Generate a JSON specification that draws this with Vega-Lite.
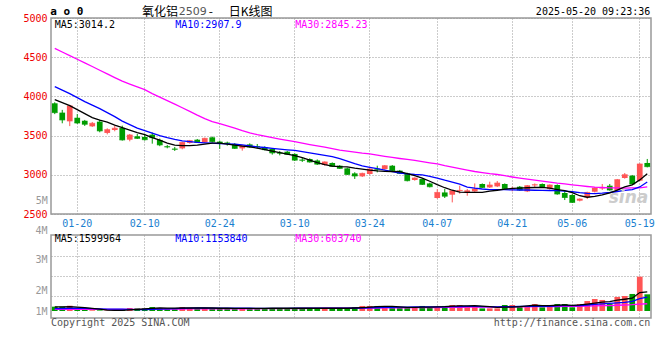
{
  "$schema": "https://vega.github.io/schema/vega-lite/v6.json",
  "background": "white",
  "padding": {"left": 22, "top": 5, "right": 0, "bottom": 0},
  "spacing": -5,
  "config": {
    "view": {"stroke": "#999999", "strokeWidth": 1.5},
    "font": "DejaVu Sans Mono",
    "axis": {"gridColor": "#999999", "gridDash": [1, 2], "gridWidth": 1, "ticks": false, "domain": false, "labelFont": "DejaVu Sans Mono", "labelFontSize": 10, "labelOverlap": false, "title": null}
  },
  "datasets": {
    "k": [
      {"d":"01-15","o":3912,"h":3925,"l":3774,"c":3793,"v":360000,"m5":3959,"m10":4125,"m30":4613,"v5":350000,"v10":200000,"v30":130000},
      {"d":"01-16","o":3793,"h":3828,"l":3657,"c":3700,"v":360000,"m5":3921,"m10":4081,"m30":4566,"v5":350000,"v10":210000,"v30":130000},
      {"d":"01-17","o":3682,"h":3892,"l":3621,"c":3879,"v":440000,"m5":3883,"m10":4036,"m30":4520,"v5":370000,"v10":230000,"v30":140000},
      {"d":"01-20","o":3729,"h":3774,"l":3649,"c":3662,"v":150000,"m5":3832,"m10":3985,"m30":4474,"v5":330000,"v10":230000,"v30":140000},
      {"d":"01-21","o":3691,"h":3700,"l":3623,"c":3644,"v":80000,"m5":3781,"m10":3934,"m30":4427,"v5":280000,"v10":220000,"v30":140000},
      {"d":"01-22","o":3618,"h":3674,"l":3610,"c":3657,"v":60000,"m5":3729,"m10":3889,"m30":4381,"v5":220000,"v10":200000,"v30":140000},
      {"d":"01-23","o":3678,"h":3700,"l":3542,"c":3560,"v":50000,"m5":3698,"m10":3844,"m30":4333,"v5":160000,"v10":180000,"v30":140000},
      {"d":"01-24","o":3534,"h":3593,"l":3516,"c":3576,"v":40000,"m5":3672,"m10":3793,"m30":4287,"v5":80000,"v10":160000,"v30":130000},
      {"d":"01-27","o":3572,"h":3627,"l":3555,"c":3593,"v":40000,"m5":3634,"m10":3742,"m30":4240,"v5":60000,"v10":150000,"v30":130000},
      {"d":"02-05","o":3598,"h":3627,"l":3436,"c":3445,"v":100000,"m5":3602,"m10":3685,"m30":4195,"v5":60000,"v10":150000,"v30":130000},
      {"d":"02-06","o":3448,"h":3521,"l":3427,"c":3508,"v":250000,"m5":3570,"m10":3640,"m30":4157,"v5":100000,"v10":130000,"v30":140000},
      {"d":"02-07","o":3491,"h":3521,"l":3457,"c":3465,"v":220000,"m5":3538,"m10":3595,"m30":4121,"v5":130000,"v10":120000,"v30":140000},
      {"d":"02-10","o":3483,"h":3521,"l":3436,"c":3448,"v":220000,"m5":3512,"m10":3563,"m30":4087,"v5":170000,"v10":120000,"v30":140000},
      {"d":"02-11","o":3512,"h":3538,"l":3397,"c":3474,"v":330000,"m5":3474,"m10":3531,"m30":4036,"v5":220000,"v10":140000,"v30":150000},
      {"d":"02-12","o":3445,"h":3462,"l":3365,"c":3381,"v":220000,"m5":3442,"m10":3500,"m30":3991,"v5":250000,"v10":160000,"v30":150000},
      {"d":"02-13","o":3363,"h":3381,"l":3338,"c":3355,"v":220000,"m5":3404,"m10":3474,"m30":3947,"v5":240000,"v10":180000,"v30":150000},
      {"d":"02-14","o":3333,"h":3355,"l":3304,"c":3325,"v":220000,"m5":3378,"m10":3451,"m30":3902,"v5":240000,"v10":200000,"v30":160000},
      {"d":"02-17","o":3337,"h":3422,"l":3325,"c":3413,"v":330000,"m5":3372,"m10":3433,"m30":3855,"v5":260000,"v10":220000,"v30":160000},
      {"d":"02-18","o":3406,"h":3445,"l":3397,"c":3436,"v":250000,"m5":3372,"m10":3423,"m30":3809,"v5":250000,"v10":240000,"v30":170000},
      {"d":"02-19","o":3448,"h":3457,"l":3406,"c":3413,"v":220000,"m5":3378,"m10":3414,"m30":3761,"v5":250000,"v10":250000,"v30":170000},
      {"d":"02-20","o":3413,"h":3474,"l":3406,"c":3465,"v":250000,"m5":3391,"m10":3408,"m30":3717,"v5":250000,"v10":250000,"v30":180000},
      {"d":"02-21","o":3478,"h":3487,"l":3413,"c":3423,"v":220000,"m5":3404,"m10":3403,"m30":3678,"v5":250000,"v10":240000,"v30":180000},
      {"d":"02-24","o":3423,"h":3436,"l":3330,"c":3404,"v":220000,"m5":3404,"m10":3397,"m30":3653,"v5":230000,"v10":240000,"v30":180000},
      {"d":"02-25","o":3410,"h":3423,"l":3372,"c":3402,"v":220000,"m5":3391,"m10":3395,"m30":3625,"v5":230000,"v10":240000,"v30":180000},
      {"d":"02-26","o":3394,"h":3404,"l":3330,"c":3337,"v":220000,"m5":3378,"m10":3391,"m30":3594,"v5":220000,"v10":230000,"v30":180000},
      {"d":"02-27","o":3337,"h":3381,"l":3308,"c":3372,"v":220000,"m5":3365,"m10":3382,"m30":3563,"v5":220000,"v10":230000,"v30":180000},
      {"d":"02-28","o":3388,"h":3401,"l":3346,"c":3355,"v":220000,"m5":3355,"m10":3369,"m30":3535,"v5":220000,"v10":230000,"v30":180000},
      {"d":"03-03","o":3367,"h":3393,"l":3333,"c":3359,"v":220000,"m5":3340,"m10":3356,"m30":3512,"v5":220000,"v10":220000,"v30":180000},
      {"d":"03-04","o":3350,"h":3363,"l":3312,"c":3321,"v":220000,"m5":3321,"m10":3348,"m30":3492,"v5":220000,"v10":220000,"v30":190000},
      {"d":"03-05","o":3330,"h":3337,"l":3257,"c":3279,"v":250000,"m5":3302,"m10":3337,"m30":3474,"v5":230000,"v10":220000,"v30":190000},
      {"d":"03-06","o":3283,"h":3304,"l":3248,"c":3275,"v":220000,"m5":3282,"m10":3327,"m30":3456,"v5":230000,"v10":220000,"v30":190000},
      {"d":"03-07","o":3295,"h":3304,"l":3253,"c":3261,"v":220000,"m5":3263,"m10":3318,"m30":3440,"v5":230000,"v10":220000,"v30":200000},
      {"d":"03-10","o":3266,"h":3274,"l":3176,"c":3187,"v":250000,"m5":3244,"m10":3311,"m30":3423,"v5":230000,"v10":230000,"v30":200000},
      {"d":"03-11","o":3193,"h":3219,"l":3164,"c":3185,"v":220000,"m5":3219,"m10":3295,"m30":3404,"v5":230000,"v10":230000,"v30":210000},
      {"d":"03-12","o":3202,"h":3210,"l":3155,"c":3164,"v":220000,"m5":3187,"m10":3280,"m30":3385,"v5":230000,"v10":230000,"v30":220000},
      {"d":"03-13","o":3183,"h":3196,"l":3125,"c":3136,"v":220000,"m5":3155,"m10":3265,"m30":3368,"v5":230000,"v10":230000,"v30":220000},
      {"d":"03-14","o":3125,"h":3171,"l":3116,"c":3164,"v":250000,"m5":3129,"m10":3249,"m30":3353,"v5":230000,"v10":230000,"v30":230000},
      {"d":"03-17","o":3151,"h":3158,"l":3100,"c":3107,"v":220000,"m5":3110,"m10":3231,"m30":3334,"v5":230000,"v10":230000,"v30":230000},
      {"d":"03-18","o":3116,"h":3125,"l":3074,"c":3082,"v":220000,"m5":3104,"m10":3206,"m30":3316,"v5":230000,"v10":230000,"v30":230000},
      {"d":"03-19","o":3082,"h":3091,"l":2998,"c":3005,"v":220000,"m5":3101,"m10":3174,"m30":3302,"v5":230000,"v10":230000,"v30":230000},
      {"d":"03-20","o":3018,"h":3033,"l":2947,"c":2985,"v":330000,"m5":3085,"m10":3142,"m30":3289,"v5":250000,"v10":240000,"v30":240000},
      {"d":"03-21","o":2980,"h":3027,"l":2972,"c":3018,"v":420000,"m5":3072,"m10":3114,"m30":3276,"v5":280000,"v10":250000,"v30":240000},
      {"d":"03-24","o":3010,"h":3082,"l":3001,"c":3074,"v":420000,"m5":3059,"m10":3095,"m30":3266,"v5":320000,"v10":270000,"v30":250000},
      {"d":"03-25","o":3078,"h":3116,"l":3031,"c":3069,"v":420000,"m5":3050,"m10":3078,"m30":3250,"v5":360000,"v10":290000,"v30":250000},
      {"d":"03-26","o":3074,"h":3125,"l":3065,"c":3116,"v":310000,"m5":3044,"m10":3059,"m30":3235,"v5":380000,"v10":300000,"v30":260000},
      {"d":"03-27","o":3116,"h":3125,"l":3044,"c":3053,"v":310000,"m5":3042,"m10":3040,"m30":3221,"v5":380000,"v10":310000,"v30":260000},
      {"d":"03-28","o":3053,"h":3062,"l":3010,"c":3018,"v":280000,"m5":3040,"m10":3023,"m30":3208,"v5":350000,"v10":320000,"v30":270000},
      {"d":"03-31","o":3018,"h":3027,"l":2916,"c":2925,"v":310000,"m5":3014,"m10":3012,"m30":3196,"v5":310000,"v10":330000,"v30":270000},
      {"d":"04-01","o":2934,"h":2967,"l":2925,"c":2959,"v":310000,"m5":2989,"m10":3004,"m30":3183,"v5":300000,"v10":340000,"v30":280000},
      {"d":"04-02","o":2946,"h":2954,"l":2870,"c":2878,"v":420000,"m5":2957,"m10":2999,"m30":3167,"v5":330000,"v10":350000,"v30":280000},
      {"d":"04-03","o":2890,"h":2899,"l":2839,"c":2848,"v":330000,"m5":2918,"m10":2979,"m30":3152,"v5":330000,"v10":350000,"v30":290000},
      {"d":"04-07","o":2704,"h":2816,"l":2695,"c":2775,"v":330000,"m5":2874,"m10":2957,"m30":3138,"v5":340000,"v10":350000,"v30":290000},
      {"d":"04-08","o":2775,"h":2819,"l":2704,"c":2727,"v":420000,"m5":2835,"m10":2931,"m30":3116,"v5":360000,"v10":350000,"v30":300000},
      {"d":"04-09","o":2746,"h":2806,"l":2648,"c":2797,"v":500000,"m5":2803,"m10":2908,"m30":3097,"v5":400000,"v10":360000,"v30":300000},
      {"d":"04-10","o":2793,"h":2861,"l":2759,"c":2801,"v":500000,"m5":2778,"m10":2880,"m30":3078,"v5":420000,"v10":370000,"v30":310000},
      {"d":"04-11","o":2768,"h":2819,"l":2733,"c":2797,"v":420000,"m5":2775,"m10":2844,"m30":3061,"v5":430000,"v10":380000,"v30":320000},
      {"d":"04-14","o":2788,"h":2890,"l":2768,"c":2819,"v":420000,"m5":2775,"m10":2829,"m30":3042,"v5":450000,"v10":390000,"v30":320000},
      {"d":"04-15","o":2883,"h":2890,"l":2832,"c":2839,"v":220000,"m5":2775,"m10":2819,"m30":3027,"v5":410000,"v10":370000,"v30":330000},
      {"d":"04-16","o":2839,"h":2912,"l":2832,"c":2870,"v":220000,"m5":2791,"m10":2812,"m30":3014,"v5":360000,"v10":360000,"v30":330000},
      {"d":"04-17","o":2852,"h":2921,"l":2844,"c":2895,"v":220000,"m5":2803,"m10":2810,"m30":3004,"v5":300000,"v10":350000,"v30":330000},
      {"d":"04-18","o":2883,"h":2890,"l":2814,"c":2823,"v":500000,"m5":2816,"m10":2810,"m30":2989,"v5":320000,"v10":360000,"v30":340000},
      {"d":"04-21","o":2815,"h":2848,"l":2788,"c":2823,"v":500000,"m5":2826,"m10":2807,"m30":2972,"v5":330000,"v10":370000,"v30":340000},
      {"d":"04-22","o":2848,"h":2857,"l":2797,"c":2806,"v":420000,"m5":2831,"m10":2806,"m30":2957,"v5":370000,"v10":380000,"v30":350000},
      {"d":"04-23","o":2788,"h":2870,"l":2780,"c":2861,"v":420000,"m5":2835,"m10":2806,"m30":2944,"v5":430000,"v10":390000,"v30":350000},
      {"d":"04-24","o":2866,"h":2890,"l":2839,"c":2874,"v":580000,"m5":2838,"m10":2803,"m30":2931,"v5":480000,"v10":390000,"v30":360000},
      {"d":"04-25","o":2883,"h":2890,"l":2832,"c":2839,"v":310000,"m5":2839,"m10":2801,"m30":2918,"v5":450000,"v10":380000,"v30":360000},
      {"d":"04-28","o":2819,"h":2878,"l":2810,"c":2870,"v":500000,"m5":2829,"m10":2800,"m30":2906,"v5":450000,"v10":390000,"v30":370000},
      {"d":"04-29","o":2870,"h":2878,"l":2746,"c":2755,"v":580000,"m5":2812,"m10":2797,"m30":2893,"v5":480000,"v10":420000,"v30":370000},
      {"d":"04-30","o":2768,"h":2797,"l":2678,"c":2712,"v":580000,"m5":2797,"m10":2793,"m30":2883,"v5":510000,"v10":450000,"v30":380000},
      {"d":"05-06","o":2742,"h":2755,"l":2640,"c":2648,"v":310000,"m5":2772,"m10":2784,"m30":2871,"v5":470000,"v10":450000,"v30":380000},
      {"d":"05-07","o":2670,"h":2699,"l":2661,"c":2691,"v":580000,"m5":2733,"m10":2772,"m30":2861,"v5":510000,"v10":460000,"v30":390000},
      {"d":"05-08","o":2712,"h":2784,"l":2691,"c":2775,"v":830000,"m5":2714,"m10":2763,"m30":2851,"v5":580000,"v10":500000,"v30":400000},
      {"d":"05-09","o":2784,"h":2844,"l":2775,"c":2832,"v":1000000,"m5":2725,"m10":2761,"m30":2842,"v5":660000,"v10":550000,"v30":420000},
      {"d":"05-12","o":2827,"h":2883,"l":2806,"c":2835,"v":920000,"m5":2745,"m10":2765,"m30":2838,"v5":740000,"v10":600000,"v30":440000},
      {"d":"05-13","o":2861,"h":2883,"l":2797,"c":2806,"v":580000,"m5":2770,"m10":2774,"m30":2834,"v5":780000,"v10":630000,"v30":450000},
      {"d":"05-14","o":2806,"h":2947,"l":2797,"c":2938,"v":1170000,"m5":2805,"m10":2787,"m30":2832,"v5":900000,"v10":670000,"v30":480000},
      {"d":"05-15","o":2959,"h":3023,"l":2950,"c":3001,"v":1250000,"m5":2845,"m10":2800,"m30":2830,"v5":980000,"v10":720000,"v30":500000},
      {"d":"05-16","o":2989,"h":2998,"l":2874,"c":2883,"v":1420000,"m5":2872,"m10":2812,"m30":2832,"v5":1070000,"v10":800000,"v30":530000},
      {"d":"05-19","o":2925,"h":3146,"l":2916,"c":3138,"v":2860000,"m5":2935,"m10":2845,"m30":2833,"v5":1540000,"v10":1030000,"v30":580000},
      {"d":"05-20","o":3151,"h":3202,"l":3095,"c":3104,"v":1390000,"m5":3014.2,"m10":2907.9,"m30":2845.23,"v5":1599964,"v10":1153840,"v30":603740}
    ]
  },
  "vconcat": [
    {
      "width": 600,
      "height": 196,
      "data": {"name": "k"},
      "encoding": {
        "x": {
          "field": "d", "type": "ordinal",
          "scale": {"type": "band", "paddingInner": 0, "paddingOuter": 0, "domain": ["01-15","01-16","01-17","01-20","01-21","01-22","01-23","01-24","01-27","02-05","02-06","02-07","02-10","02-11","02-12","02-13","02-14","02-17","02-18","02-19","02-20","02-21","02-24","02-25","02-26","02-27","02-28","03-03","03-04","03-05","03-06","03-07","03-10","03-11","03-12","03-13","03-14","03-17","03-18","03-19","03-20","03-21","03-24","03-25","03-26","03-27","03-28","03-31","04-01","04-02","04-03","04-07","04-08","04-09","04-10","04-11","04-14","04-15","04-16","04-17","04-18","04-21","04-22","04-23","04-24","04-25","04-28","04-29","04-30","05-06","05-07","05-08","05-09","05-12","05-13","05-14","05-15","05-16","05-19","05-20"]},
          "axis": {"values": ["01-20","02-10","02-24","03-10","03-24","04-07","04-21","05-06","05-19"], "labelColor": "#1a7fd0", "labelPadding": 4, "labelAngle": 0, "grid": true}
        }
      },
      "layer": [
        {
          "mark": {"type": "rule", "strokeWidth": 1},
          "encoding": {
            "y": {"field": "l", "type": "quantitative", "scale": {"domain": [2500, 5000], "nice": false, "zero": false}, "axis": {"values": [2500, 3000, 3500, 4000, 4500, 5000], "tickCount": 12, "labelOverlap": false, "format": "d", "labelColor": "#ee0000", "labelPadding": 4, "grid": true}},
            "y2": {"field": "h"},
            "color": {"condition": {"test": "datum.c >= datum.o", "value": "#ff5555"}, "value": "#009c00"}
          }
        },
        {
          "mark": {"type": "bar", "width": {"band": 0.76}},
          "encoding": {
            "y": {"field": "o", "type": "quantitative"},
            "y2": {"field": "c"},
            "color": {"condition": {"test": "datum.c >= datum.o", "value": "#ff5555"}, "value": "#009c00"}
          }
        },
        {
          "mark": {"type": "tick", "thickness": 1, "size": 5.7},
          "encoding": {
            "y": {"field": "c", "type": "quantitative"},
            "color": {"condition": {"test": "datum.c >= datum.o", "value": "#ff5555"}, "value": "#009c00"}
          }
        },
        {"mark": {"type": "line", "color": "#ff00ff", "strokeWidth": 1.3}, "encoding": {"y": {"field": "m30", "type": "quantitative"}}},
        {"mark": {"type": "line", "color": "#0000ff", "strokeWidth": 1.3}, "encoding": {"y": {"field": "m10", "type": "quantitative"}}},
        {"mark": {"type": "line", "color": "#000000", "strokeWidth": 1.3}, "encoding": {"y": {"field": "m5", "type": "quantitative"}}},
        {"data": {"values": [{}]}, "mark": {"type": "text", "text": "MA5:3014.2", "align": "left", "baseline": "middle", "fontSize": 10, "color": "#000000"}, "encoding": {"x": {"datum": "01-15", "type": "ordinal"}, "y": {"datum": 4917}}},
        {"data": {"values": [{}]}, "mark": {"type": "text", "text": "MA10:2907.9", "align": "left", "baseline": "middle", "fontSize": 10, "color": "#0000ff", "dx": 0.5}, "encoding": {"x": {"datum": "02-14", "type": "ordinal"}, "y": {"datum": 4917}}},
        {"data": {"values": [{}]}, "mark": {"type": "text", "text": "MA30:2845.23", "align": "left", "baseline": "middle", "fontSize": 10, "color": "#ff00ff", "dx": 0.5}, "encoding": {"x": {"datum": "03-10", "type": "ordinal"}, "y": {"datum": 4917}}},
        {"data": {"values": [{}]}, "mark": {"type": "text", "text": "a o 0", "align": "left", "baseline": "middle", "fontSize": 11, "fontWeight": "bold", "color": "#000000", "dx": -4.5}, "encoding": {"x": {"datum": "01-15", "type": "ordinal"}, "y": {"datum": 5077}}},
        {"data": {"values": [{}]}, "mark": {"type": "text", "text": "氧化铝", "font": "Noto Sans CJK SC", "align": "left", "baseline": "middle", "fontSize": 12, "color": "#000000", "dx": -2.75}, "encoding": {"x": {"datum": "02-10", "type": "ordinal"}, "y": {"datum": 5077}}},
        {"data": {"values": [{}]}, "mark": {"type": "text", "text": "2509", "font": "DejaVu Sans", "align": "left", "baseline": "middle", "fontSize": 11, "color": "#555555", "dx": 4}, "encoding": {"x": {"datum": "02-14", "type": "ordinal"}, "y": {"datum": 5077}}},
        {"data": {"values": [{}]}, "mark": {"type": "text", "text": "-", "font": "Noto Sans CJK SC", "align": "left", "baseline": "middle", "fontSize": 12, "color": "#000000", "dx": 4}, "encoding": {"x": {"datum": "02-20", "type": "ordinal"}, "y": {"datum": 5077}}},
        {"data": {"values": [{}]}, "mark": {"type": "text", "text": "日K线图", "font": "Noto Sans CJK SC", "align": "left", "baseline": "middle", "fontSize": 12, "color": "#000000", "dx": 9}, "encoding": {"x": {"datum": "02-24", "type": "ordinal"}, "y": {"datum": 5077}}},
        {"data": {"values": [{}]}, "mark": {"type": "text", "text": "2025-05-20 09:23:36", "align": "right", "baseline": "middle", "fontSize": 10, "color": "#000000", "dx": 3}, "encoding": {"x": {"datum": "05-20", "type": "ordinal"}, "y": {"datum": 5077}}},
        {"data": {"values": [{}]}, "mark": {"type": "text", "text": "5M", "align": "right", "baseline": "middle", "fontSize": 10, "color": "#999999", "dx": -7}, "encoding": {"x": {"datum": "01-15", "type": "ordinal"}, "y": {"datum": 2669}}},
        {"data": {"values": [{}]}, "mark": {"type": "text", "text": "sina", "font": "DejaVu Sans", "fontStyle": "italic", "fontWeight": "bold", "align": "right", "baseline": "middle", "fontSize": 17, "color": "#cccccc", "dx": 1}, "encoding": {"x": {"datum": "05-20", "type": "ordinal"}, "y": {"datum": 2708}}}
      ]
    },
    {
      "width": 600,
      "height": 83,
      "data": {"name": "k"},
      "encoding": {
        "x": {
          "field": "d", "type": "ordinal",
          "scale": {"type": "band", "paddingInner": 0, "paddingOuter": 0, "domain": ["01-15","01-16","01-17","01-20","01-21","01-22","01-23","01-24","01-27","02-05","02-06","02-07","02-10","02-11","02-12","02-13","02-14","02-17","02-18","02-19","02-20","02-21","02-24","02-25","02-26","02-27","02-28","03-03","03-04","03-05","03-06","03-07","03-10","03-11","03-12","03-13","03-14","03-17","03-18","03-19","03-20","03-21","03-24","03-25","03-26","03-27","03-28","03-31","04-01","04-02","04-03","04-07","04-08","04-09","04-10","04-11","04-14","04-15","04-16","04-17","04-18","04-21","04-22","04-23","04-24","04-25","04-28","04-29","04-30","05-06","05-07","05-08","05-09","05-12","05-13","05-14","05-15","05-16","05-19","05-20"]},
          "axis": {"values": ["01-20","02-10","02-24","03-10","03-24","04-07","04-21","05-06","05-19"], "labels": false, "grid": true}
        }
      },
      "layer": [
        {
          "mark": {"type": "bar", "width": {"band": 0.76}},
          "encoding": {
            "y": {"field": "v", "type": "quantitative", "scale": {"domain": [-583000, 6333000], "nice": false, "zero": false}, "axis": {"orient": "left", "values": [1250000, 2920000, 4580000], "tickCount": 10, "labels": false, "grid": true}},
            "y2": {"datum": 0},
            "color": {"condition": {"test": "datum.c >= datum.o", "value": "#ff5555"}, "value": "#009c00"}
          }
        },
        {"mark": {"type": "line", "color": "#ff00ff", "strokeWidth": 1.3}, "encoding": {"y": {"field": "v30", "type": "quantitative", "axis": null}}},
        {"mark": {"type": "line", "color": "#0000ff", "strokeWidth": 1.3}, "encoding": {"y": {"field": "v10", "type": "quantitative", "axis": null}}},
        {"mark": {"type": "line", "color": "#000000", "strokeWidth": 1.3}, "encoding": {"y": {"field": "v5", "type": "quantitative", "axis": {"orient": "left", "values": [0, 1670000, 4250000, 6333000], "tickCount": 10, "labelExpr": "datum.value == 0 ? '1M' : datum.value < 2000000 ? '2M' : datum.value < 5000000 ? '3M' : '4M'", "labelBaseline": {"condition": {"test": "datum.value > 6000000", "value": "bottom"}, "value": "middle"}, "labelColor": "#999999", "labelPadding": 4, "grid": false}}}},
        {"data": {"values": [{}]}, "mark": {"type": "text", "text": "MA5:1599964", "align": "left", "baseline": "middle", "fontSize": 10, "color": "#000000"}, "encoding": {"x": {"datum": "01-15", "type": "ordinal"}, "y": {"datum": 6000000, "axis": null}}},
        {"data": {"values": [{}]}, "mark": {"type": "text", "text": "MA10:1153840", "align": "left", "baseline": "middle", "fontSize": 10, "color": "#0000ff", "dx": 0.5}, "encoding": {"x": {"datum": "02-14", "type": "ordinal"}, "y": {"datum": 6000000, "axis": null}}},
        {"data": {"values": [{}]}, "mark": {"type": "text", "text": "MA30:603740", "align": "left", "baseline": "middle", "fontSize": 10, "color": "#ff00ff", "dx": 0.5}, "encoding": {"x": {"datum": "03-10", "type": "ordinal"}, "y": {"datum": 6000000, "axis": null}}},
        {"data": {"values": [{}]}, "mark": {"type": "text", "text": "Copyright 2025 SINA.COM", "align": "left", "baseline": "middle", "fontSize": 10, "color": "#555555", "dx": -3.75}, "encoding": {"x": {"datum": "01-15", "type": "ordinal"}, "y": {"datum": -1040000, "axis": null}}},
        {"data": {"values": [{}]}, "mark": {"type": "text", "text": "http://finance.sina.com.cn", "align": "right", "baseline": "middle", "fontSize": 10, "color": "#555555", "dx": 3}, "encoding": {"x": {"datum": "05-20", "type": "ordinal"}, "y": {"datum": -1040000, "axis": null}}}
      ],
      "resolve": {"axis": {"y": "independent"}}
    }
  ]
}
